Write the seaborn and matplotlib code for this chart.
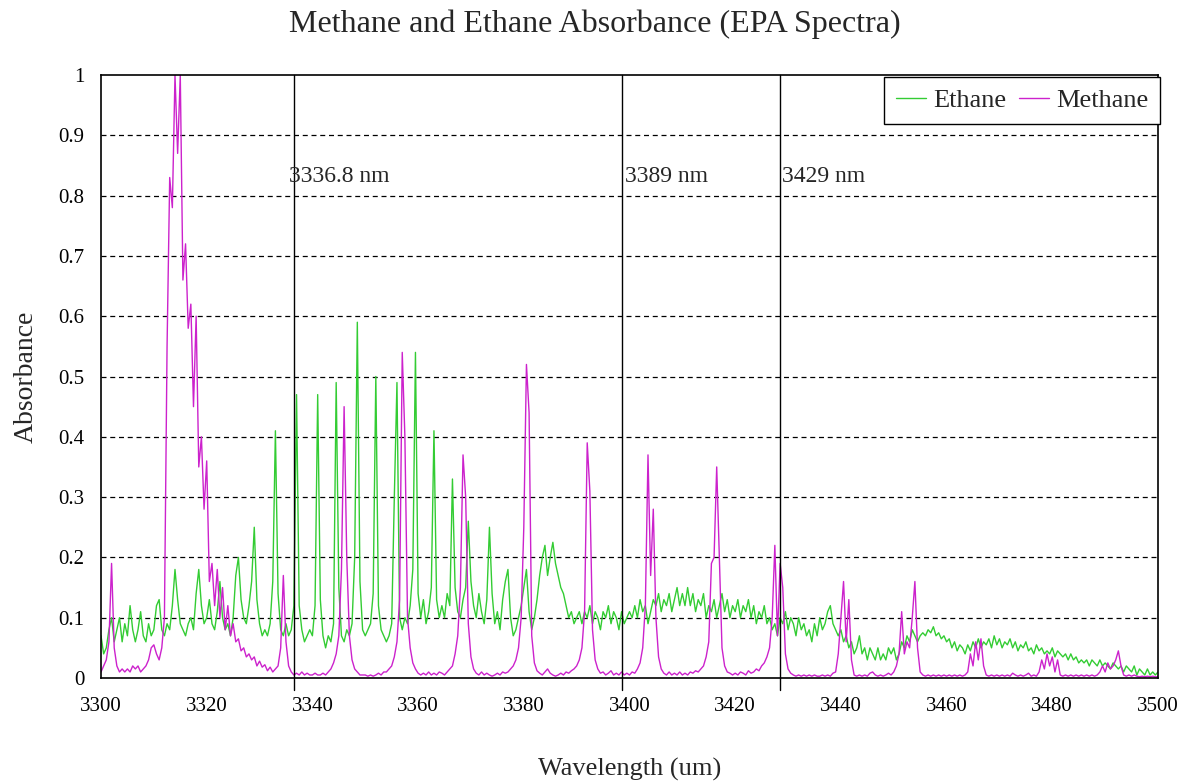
import numpy as np
import pandas as pd
import matplotlib
matplotlib.use("Agg")
import matplotlib.pyplot as plt
import seaborn as sns
from matplotlib.lines import Line2D

# ---------------- data ----------------
start_wl = 3300.0
step_wl = 0.5

ethane = [
    # 3300 - 3309.5
    0.07, 0.04, 0.05, 0.08, 0.10, 0.06, 0.08, 0.10, 0.06, 0.09,
    0.07, 0.12, 0.08, 0.06, 0.08, 0.11, 0.07, 0.06, 0.09, 0.07,
    # 3310 - 3319.5
    0.08, 0.12, 0.13, 0.08, 0.07, 0.09, 0.08, 0.12, 0.18, 0.13,
    0.09, 0.08, 0.07, 0.09, 0.10, 0.08, 0.14, 0.18, 0.12, 0.09,
    # 3320 - 3329.5
    0.10, 0.13, 0.09, 0.08, 0.11, 0.16, 0.10, 0.08, 0.09, 0.07,
    0.10, 0.17, 0.20, 0.13, 0.10, 0.09, 0.12, 0.16, 0.25, 0.13,
    # 3330 - 3339.5
    0.09, 0.07, 0.08, 0.07, 0.09, 0.16, 0.41, 0.14, 0.08, 0.07,
    0.09, 0.07, 0.08, 0.12, 0.47, 0.12, 0.08, 0.06, 0.07, 0.08,
    # 3340 - 3349.5
    0.07, 0.12, 0.47, 0.13, 0.07, 0.05, 0.07, 0.06, 0.09, 0.49,
    0.15, 0.07, 0.06, 0.08, 0.07, 0.09, 0.20, 0.59, 0.16, 0.08,
    # 3350 - 3359.5
    0.07, 0.08, 0.09, 0.14, 0.50, 0.12, 0.08, 0.07, 0.06, 0.07,
    0.09, 0.30, 0.49, 0.10, 0.08, 0.10, 0.09, 0.12, 0.18, 0.54,
    # 3360 - 3369.5
    0.14, 0.10, 0.13, 0.09, 0.11, 0.15, 0.41, 0.13, 0.10, 0.12,
    0.10, 0.14, 0.12, 0.33, 0.15, 0.11, 0.10, 0.13, 0.15, 0.26,
    # 3370 - 3379.5
    0.16, 0.12, 0.10, 0.14, 0.11, 0.09, 0.13, 0.25, 0.14, 0.09,
    0.11, 0.08, 0.13, 0.16, 0.18, 0.10, 0.07, 0.08, 0.10, 0.12,
    # 3380 - 3389.5
    0.15, 0.18, 0.11, 0.08, 0.10, 0.13, 0.17, 0.20, 0.22, 0.17,
    0.20, 0.225, 0.19, 0.17, 0.15, 0.14, 0.12, 0.10, 0.11, 0.09,
    # 3390 - 3399.5
    0.10, 0.11, 0.09, 0.11, 0.10, 0.12, 0.09, 0.11, 0.10, 0.08,
    0.11, 0.10, 0.12, 0.09, 0.11, 0.10, 0.08, 0.11, 0.09, 0.10,
    # 3400 - 3409.5
    0.11, 0.10, 0.12, 0.10, 0.13, 0.11, 0.12, 0.09, 0.11, 0.13,
    0.12, 0.14, 0.11, 0.13, 0.12, 0.14, 0.11, 0.13, 0.15, 0.12,
    # 3410 - 3419.5
    0.14, 0.12, 0.15, 0.12, 0.14, 0.11, 0.13, 0.12, 0.14, 0.10,
    0.12, 0.11, 0.13, 0.10, 0.12, 0.14, 0.11, 0.13, 0.10, 0.12,
    # 3420 - 3429.5
    0.11, 0.13, 0.10, 0.12, 0.11, 0.13, 0.10, 0.12, 0.09, 0.11,
    0.10, 0.12, 0.09, 0.10, 0.08, 0.09, 0.07, 0.10, 0.09, 0.11,
    # 3430 - 3439.5
    0.08, 0.10, 0.09, 0.07, 0.10, 0.08, 0.09, 0.07, 0.08, 0.06,
    0.09, 0.07, 0.10, 0.08, 0.09, 0.11, 0.12, 0.09, 0.08, 0.07,
    # 3440 - 3449.5
    0.08, 0.06, 0.07, 0.05, 0.06, 0.04, 0.05, 0.07, 0.04, 0.05,
    0.03, 0.05, 0.04, 0.03, 0.05, 0.03, 0.04, 0.03, 0.05, 0.04,
    # 3450 - 3459.5
    0.05, 0.03, 0.04, 0.06, 0.05, 0.07, 0.06, 0.08, 0.07, 0.06,
    0.07, 0.075, 0.07, 0.08, 0.075, 0.085, 0.07, 0.075, 0.065, 0.07,
    # 3460 - 3469.5
    0.06, 0.065, 0.05, 0.06, 0.045, 0.055, 0.05, 0.04, 0.055, 0.045,
    0.06, 0.05, 0.065, 0.05, 0.06, 0.055, 0.065, 0.05, 0.07, 0.055,
    # 3470 - 3479.5
    0.065, 0.05, 0.06, 0.055, 0.065, 0.05, 0.06, 0.045, 0.055, 0.05,
    0.06, 0.045, 0.05, 0.04, 0.055, 0.045, 0.05, 0.04, 0.045, 0.04,
    # 3480 - 3489.5
    0.05, 0.035, 0.045, 0.04, 0.035, 0.04, 0.03, 0.04, 0.03, 0.035,
    0.025, 0.03, 0.025, 0.03, 0.02, 0.03, 0.025, 0.02, 0.03, 0.02,
    # 3490 - 3500
    0.025, 0.02, 0.015, 0.025, 0.02, 0.015, 0.02, 0.01, 0.02, 0.015,
    0.01, 0.02, 0.005, 0.015, 0.01, 0.005, 0.015, 0.005, 0.01, 0.005,
    0.01,
]

methane = [
    # 3300 - 3309.5
    0.01, 0.02, 0.03, 0.06, 0.19, 0.05, 0.02, 0.01, 0.015, 0.01,
    0.015, 0.01, 0.02, 0.015, 0.02, 0.01, 0.015, 0.02, 0.03, 0.05,
    # 3310 - 3319.5
    0.055, 0.04, 0.03, 0.05, 0.10, 0.55, 0.83, 0.78, 1.0, 0.87,
    1.0, 0.66, 0.72, 0.58, 0.62, 0.45, 0.60, 0.35, 0.40, 0.28,
    # 3320 - 3329.5
    0.36, 0.16, 0.19, 0.12, 0.18, 0.10, 0.15, 0.08, 0.12, 0.07,
    0.09, 0.06, 0.065, 0.045, 0.05, 0.035, 0.04, 0.03, 0.035, 0.02,
    # 3330 - 3339.5
    0.028, 0.018, 0.022, 0.012, 0.018, 0.01, 0.015, 0.02, 0.05, 0.17,
    0.06, 0.02, 0.01, 0.005, 0.008, 0.005, 0.01, 0.005, 0.008, 0.005,
    # 3340 - 3349.5
    0.005, 0.008, 0.005, 0.005, 0.008, 0.005, 0.01, 0.015, 0.025, 0.04,
    0.07, 0.18, 0.45, 0.20, 0.07, 0.03, 0.015, 0.01, 0.005, 0.005,
    # 3350 - 3359.5
    0.005, 0.003, 0.005, 0.003, 0.005, 0.008, 0.005, 0.01, 0.01, 0.015,
    0.02, 0.035, 0.06, 0.13, 0.54, 0.40, 0.10, 0.05, 0.025, 0.015,
    # 3360 - 3369.5
    0.008, 0.005, 0.008, 0.005, 0.01, 0.005, 0.008, 0.005, 0.01, 0.008,
    0.005, 0.01, 0.015, 0.02, 0.04, 0.07, 0.15, 0.37, 0.30, 0.09,
    # 3370 - 3379.5
    0.035, 0.015, 0.008, 0.005, 0.01, 0.005, 0.008, 0.005, 0.003, 0.005,
    0.008, 0.005, 0.01, 0.008, 0.01, 0.015, 0.02, 0.03, 0.05, 0.10,
    # 3380 - 3389.5
    0.25, 0.52, 0.44, 0.07, 0.025, 0.012, 0.008, 0.005, 0.01, 0.015,
    0.008, 0.005, 0.003, 0.005, 0.008, 0.005, 0.01, 0.008, 0.012, 0.015,
    # 3390 - 3399.5
    0.02, 0.03, 0.05, 0.11, 0.39, 0.31, 0.08, 0.03, 0.015, 0.008,
    0.01, 0.005, 0.008, 0.012, 0.005, 0.008, 0.005, 0.01, 0.005, 0.008,
    # 3400 - 3409.5
    0.005, 0.01, 0.008, 0.015, 0.025, 0.05, 0.12, 0.37, 0.17, 0.28,
    0.10, 0.035, 0.015, 0.008, 0.005, 0.01, 0.005, 0.008, 0.005, 0.01,
    # 3410 - 3419.5
    0.005, 0.008, 0.005, 0.01, 0.008, 0.012, 0.01, 0.015, 0.02, 0.035,
    0.06, 0.19, 0.20, 0.35, 0.20, 0.05, 0.02, 0.01, 0.008, 0.005,
    # 3420 - 3429.5
    0.008, 0.005, 0.01, 0.008, 0.005, 0.012, 0.008, 0.01, 0.015, 0.012,
    0.02, 0.025, 0.035, 0.05, 0.10, 0.22, 0.07, 0.19, 0.15, 0.04,
    # 3430 - 3439.5
    0.015, 0.008, 0.005, 0.003, 0.005, 0.003, 0.005, 0.003, 0.005, 0.003,
    0.005, 0.003, 0.003, 0.005, 0.003, 0.005, 0.003, 0.008, 0.01, 0.04,
    # 3440 - 3449.5
    0.10, 0.16, 0.06, 0.13, 0.03, 0.005, 0.003, 0.005, 0.003, 0.005,
    0.003, 0.008, 0.01, 0.005, 0.003, 0.005, 0.003, 0.005, 0.008, 0.005,
    # 3450 - 3459.5
    0.01, 0.02, 0.04, 0.11, 0.04, 0.06, 0.05, 0.10, 0.16, 0.05,
    0.01, 0.005, 0.003, 0.005, 0.003, 0.005, 0.003, 0.005, 0.003, 0.005,
    # 3460 - 3469.5
    0.003, 0.005, 0.003, 0.005, 0.003, 0.005, 0.003, 0.005, 0.01, 0.04,
    0.02, 0.06, 0.03, 0.065, 0.02, 0.005, 0.003, 0.005, 0.003, 0.005,
    # 3470 - 3479.5
    0.003, 0.005, 0.003, 0.005, 0.003, 0.008, 0.005, 0.003, 0.005, 0.003,
    0.005, 0.008, 0.003, 0.005, 0.003, 0.01, 0.03, 0.015, 0.04, 0.02,
    # 3480 - 3489.5
    0.035, 0.01, 0.03, 0.005, 0.003, 0.005, 0.003, 0.005, 0.003, 0.005,
    0.003, 0.005, 0.003, 0.005, 0.003, 0.005, 0.003, 0.005, 0.01, 0.02,
    # 3490 - 3500
    0.01, 0.025, 0.015, 0.02, 0.03, 0.045, 0.02, 0.005, 0.003, 0.005,
    0.003, 0.005, 0.003, 0.002, 0.003, 0.002, 0.003, 0.002, 0.003, 0.002,
    0.002,
]

marker_lines = [3336.5, 3398.6, 3428.4]
marker_labels = ["3336.8 nm", "3389 nm", "3429 nm"]

x_ticks = [3300, 3320, 3340, 3360, 3380, 3400, 3420, 3440, 3460, 3480, 3500]
y_ticks = [0, 0.1, 0.2, 0.3, 0.4, 0.5, 0.6, 0.7, 0.8, 0.9, 1.0]
y_tick_labels = ["0", "0.1", "0.2", "0.3", "0.4", "0.5", "0.6", "0.7", "0.8", "0.9", "1"]

series_names = ["Ethane", "Methane"]
series_colors = {"Ethane": "#33cc33", "Methane": "#cc22cc"}

title = "Methane and Ethane Absorbance (EPA Spectra)"
x_label = "Wavelength (um)"
y_label = "Absorbance"

# ---------------- build table ----------------
wl_e = start_wl + step_wl * np.arange(len(ethane))
wl_m = start_wl + step_wl * np.arange(len(methane))
df = pd.concat([
    pd.DataFrame({"Wavelength": wl_e, "Absorbance": ethane, "Gas": "Ethane"}),
    pd.DataFrame({"Wavelength": wl_m, "Absorbance": methane, "Gas": "Methane"}),
], ignore_index=True)

# ---------------- plot ----------------
sns.set_style("white")
plt.rcParams["font.family"] = ["Liberation Serif", "DejaVu Serif"]

fig = plt.figure(figsize=(11.89, 7.82), dpi=100)
ax = fig.add_axes([101 / 1189, 1 - 678 / 782, (1158 - 101) / 1189, (678 - 75) / 782])

sns.lineplot(data=df, x="Wavelength", y="Absorbance", hue="Gas",
             hue_order=series_names, palette=series_colors,
             estimator=None, sort=False, linewidth=1.0, ax=ax, legend=False)

ax.set_xlim(3300, 3500)
ax.set_ylim(0, 1)
ax.set_xticks(x_ticks)
ax.set_xticklabels([str(t) for t in x_ticks])
ax.set_yticks(y_ticks)
ax.set_yticklabels(y_tick_labels)

for yv in y_ticks[1:-1]:
    ax.axhline(yv, color="black", linestyle=(0, (4, 3)), linewidth=0.9, zorder=0.5)

label_offsets = [-0.9, 0.6, 0.5]
for xv, lab, off in zip(marker_lines, marker_labels, label_offsets):
    ax.axvline(xv, ymin=-0.02, ymax=1, color="black", linewidth=1.0, clip_on=False, zorder=3)
    ax.text(xv + off, 0.831, lab, fontsize=17, va="center", ha="left")

for s in ax.spines.values():
    s.set_color("black")
    s.set_linewidth(1.2)

ax.tick_params(axis="x", direction="in", length=4, width=1, labelsize=15, pad=14, colors="black")
ax.tick_params(axis="y", length=0, labelsize=15, pad=12, colors="black")

ax.set_xlabel(x_label, fontsize=19, labelpad=30)
ax.set_ylabel(y_label, fontsize=20, labelpad=14)
fig.suptitle(title, fontsize=23, y=0.988)

handles = [Line2D([0], [0], color=series_colors[n], linewidth=1.0) for n in series_names]
leg = ax.legend(handles, series_names, loc="upper right", ncol=2, fontsize=19,
                frameon=True, fancybox=False, edgecolor="black", framealpha=1,
                bbox_to_anchor=(1.002, 0.997), borderaxespad=0.0,
                handlelength=1.15, handletextpad=0.25, columnspacing=0.5,
                borderpad=0.45)
leg.get_frame().set_linewidth(1.0)

fig.savefig("out.png", dpi=100)
